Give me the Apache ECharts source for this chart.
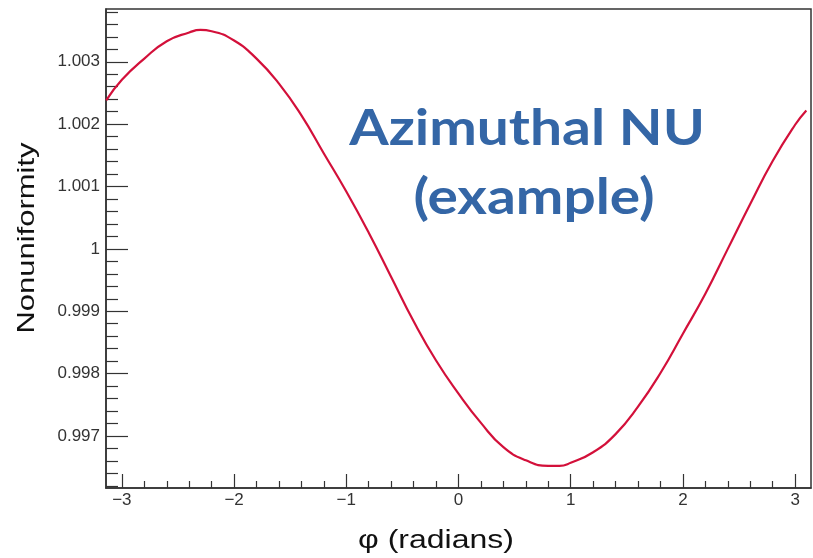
<!DOCTYPE html>
<html>
<head>
<meta charset="utf-8">
<script src="https://cdn.jsdelivr.net/npm/echarts@6/dist/echarts.min.js"></script>
<style>html,body{margin:0;padding:0;background:#fff;}#c{width:813px;height:558px;}</style>
</head>
<body>
<div id="c"></div>
<script>
// Data
var phi = [-3.14, -3.0, -2.8, -2.6, -2.4, -2.3, -2.2, -2.0, -1.8, -1.6, -1.4, -1.2, -1.0, -0.8, -0.6, -0.4, -0.2, 0.0, 0.2, 0.4, 0.6, 0.8, 0.9, 1.0, 1.2, 1.4, 1.6, 1.8, 2.0, 2.2, 2.4, 2.6, 2.8, 3.0, 3.1];
var nonuniformity = [1.00238, 1.00271, 1.00305, 1.00333, 1.00347, 1.00351, 1.00349, 1.00334, 1.00305, 1.00265, 1.00214, 1.00153, 1.00092, 1.00026, 0.99955, 0.99884, 0.99821, 0.99768, 0.99721, 0.99682, 0.99661, 0.99652, 0.99652, 0.99657, 0.99674, 0.99703, 0.99747, 0.99801, 0.99864, 0.99928, 1.00000, 1.00072, 1.00141, 1.00199, 1.00222];
var xTickLabels = [-3, -2, -1, 0, 1, 2, 3];
var yTickLabels = [0.997, 0.998, 0.999, 1.000, 1.001, 1.002, 1.003];
var xRange = [-Math.PI, Math.PI];
var yRange = [0.996166, 1.003846];
var titleLines = ['Azimuthal NU', '(example)'];
var xTitle = 'φ (radians)';
var yTitle = 'Nonuniformity';

// minor tick positions
var xMinor = [];
for (var i = -15; i <= 15; i++) { if (i % 5 !== 0) xMinor.push(i / 5); }
var yMinor = [];
for (var j = 9962; j <= 10038; j += 2) { if (j % 10 !== 0) yMinor.push(j / 10000); }

var pts = phi.map(function (p, k) { return [p, nonuniformity[k]]; });
var axisColor = '#333';
var labelFont = { fontFamily: 'Liberation Sans, Arial, sans-serif', fontSize: 17, color: '#333' };

var chart = echarts.init(document.getElementById('c'), null, { renderer: 'canvas' });
chart.setOption({
  animation: false,
  backgroundColor: '#fff',
  grid: { left: 106, right: 2, top: 9, bottom: 70, show: true, borderColor: axisColor, borderWidth: 1.5, backgroundColor: 'transparent' },
  xAxis: [{
    type: 'value', min: xRange[0], max: xRange[1], position: 'bottom',
    axisLine: { show: true, onZero: false, lineStyle: { color: axisColor, width: 1.5 } },
    axisTick: { show: true, inside: true, length: 14, customValues: xTickLabels, lineStyle: { color: axisColor, width: 1.2 } },
    axisLabel: Object.assign({ show: true, margin: 4, customValues: xTickLabels, formatter: function (v) { return v < 0 ? '\u2212' + Math.abs(v) : String(v); } }, labelFont),
    splitLine: { show: false }
  }, {
    type: 'value', min: xRange[0], max: xRange[1], position: 'bottom',
    axisLine: { show: false, onZero: false },
    axisTick: { show: true, inside: true, length: 7, customValues: xMinor, lineStyle: { color: axisColor, width: 1.2 } },
    axisLabel: { show: false },
    splitLine: { show: false }
  }],
  yAxis: [{
    type: 'value', min: yRange[0], max: yRange[1], position: 'left',
    axisLine: { show: true, onZero: false, lineStyle: { color: axisColor, width: 1.5 } },
    axisTick: { show: true, inside: true, length: 22, customValues: yTickLabels, lineStyle: { color: axisColor, width: 1.2 } },
    axisLabel: Object.assign({ show: true, margin: 6, customValues: yTickLabels, formatter: function (v) { return String(parseFloat(v.toFixed(3))); } }, labelFont),
    splitLine: { show: false }
  }, {
    type: 'value', min: yRange[0], max: yRange[1], position: 'left',
    axisLine: { show: false, onZero: false },
    axisTick: { show: true, inside: true, length: 12, customValues: yMinor, lineStyle: { color: axisColor, width: 1.2 } },
    axisLabel: { show: false },
    splitLine: { show: false }
  }],
  series: [{
    type: 'line', xAxisIndex: 0, yAxisIndex: 0, data: pts, smooth: 0.5,
    showSymbol: false, lineStyle: { color: '#d3103a', width: 2.2 }, clip: true
  }],
  graphic: [
    { type: 'text', x: 527, y: 129, style: { text: titleLines[0], font: 'bold 49px Lato, sans-serif', fill: '#3466a6', align: 'center', verticalAlign: 'middle' }, scaleX: 1.16 },
    { type: 'text', x: 534, y: 198, style: { text: titleLines[1], font: 'bold 49px Lato, sans-serif', fill: '#3466a6', align: 'center', verticalAlign: 'middle' }, scaleX: 1.16 },
    { type: 'text', x: 436, y: 541, style: { text: xTitle, font: '25px "Liberation Sans", Arial, sans-serif', fill: '#111', align: 'center', verticalAlign: 'middle' }, scaleX: 1.28 },
    { type: 'text', x: 27, y: 238, rotation: Math.PI / 2, style: { text: yTitle, font: '24px "Liberation Sans", Arial, sans-serif', fill: '#111', align: 'center', verticalAlign: 'middle' }, scaleX: 1.29 }
  ]
});
</script>
</body>
</html>
